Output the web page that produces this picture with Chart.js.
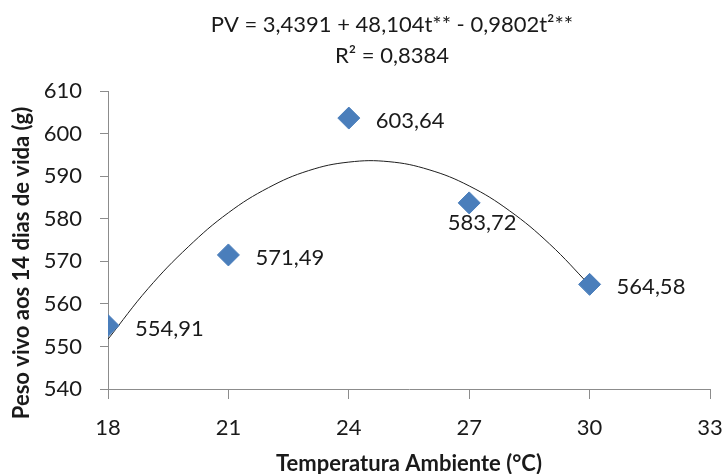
<!DOCTYPE html>
<html>
<head>
<meta charset="utf-8">
<script src="https://cdn.jsdelivr.net/npm/chart.js@4/dist/chart.umd.min.js"></script>
<style>
  body { margin: 0; background: #fff; }
  #grafico { display: block; }
</style>
</head>
<body>
<canvas id="grafico" width="726" height="474"></canvas>
<script>
// datos observados
const temperaturas = [18, 21, 24, 27, 30];
const pesosVivos = [554.91, 571.49, 603.64, 583.72, 564.58];
const etiquetasPeso = ["554,91", "571,49", "603,64", "583,72", "564,58"];

// curva ajustada
const tempCurva = [18, 19, 20, 21, 22, 23, 24, 25, 26, 27, 28, 29, 30];
const pesoCurva = [551.7, 563.6, 573.4, 581.4, 587.3, 591.3, 593.3, 593.4, 591.5, 587.7, 581.9, 574.1, 564.4];

const ticksX = [18, 21, 24, 27, 30, 33];
const ticksY = [540, 550, 560, 570, 580, 590, 600, 610];

const tituloLineas = ["PV = 3,4391 + 48,104t** - 0,9802t²**", "R² = 0,8384"];
const tituloX = "Temperatura Ambiente (°C)";
const tituloY = "Peso vivo aos 14 dias de vida (g)";

const fuente = "Lato, 'Open Sans', sans-serif";
const colorTexto = "#1a1a1a";
const colorEje = "#8c8c8c";

// posicion de cada etiqueta: derecha o abajo
const posEtiqueta = ["derecha", "derecha", "derecha", "abajo", "derecha"];

const pluginTextos = {
    id: "textos",
    afterDraw(chart) {
        const ctx = chart.ctx;
        const area = chart.chartArea;
        ctx.save();
        ctx.fillStyle = colorTexto;
        ctx.font = "22px " + fuente;
        ctx.textAlign = "center";
        ctx.textBaseline = "middle";
        let cx = (area.left + area.right) / 2 - 17;
        ctx.fillText(tituloLineas[0], cx, 25);
        ctx.fillText(tituloLineas[1], cx, 56);

        // titulo eje Y (algo desplazado hacia abajo como el original)
        ctx.save();
        ctx.font = "bold 22px " + fuente;
        ctx.translate(22, (area.top + area.bottom) / 2 + 23);
        ctx.rotate(-Math.PI / 2);
        ctx.fillText(tituloY, 0, 0);
        ctx.restore();

        // etiquetas de valores
        const meta = chart.getDatasetMeta(0);
        ctx.font = "22px " + fuente;
        meta.data.forEach((punto, i) => {
            if (posEtiqueta[i] === "abajo") {
                ctx.textAlign = "center";
                ctx.fillText(etiquetasPeso[i], punto.x + 13, punto.y + 20);
            } else {
                ctx.textAlign = "left";
                ctx.fillText(etiquetasPeso[i], punto.x + 27, punto.y + 3);
            }
        });
        ctx.restore();
    }
};

const datosDispersion = temperaturas.map((t, i) => ({ x: t, y: pesosVivos[i] }));
const datosCurva = tempCurva.map((t, i) => ({ x: t, y: pesoCurva[i] }));

const config = {
    type: "scatter",
    data: {
        datasets: [{
            label: "Peso vivo",
            data: datosDispersion,
            pointStyle: "rectRot",
            pointRadius: 11,
            backgroundColor: "#4a7ebb",
            borderColor: "#4a7ebb",
            borderWidth: 1,
            order: 0
        }, {
            label: "Ajuste",
            data: datosCurva,
            showLine: true,
            tension: 0.4,
            pointRadius: 0,
            borderColor: "#1e1e1e",
            borderWidth: 1,
            fill: false,
            order: 1
        }]
    },
    options: {
        responsive: false,
        animation: false,
        events: [],
        layout: { padding: { top: 91, right: 16, left: 0, bottom: 0 } },
        plugins: {
            legend: { display: false },
            tooltip: { enabled: false },
            title: { display: false }
        },
        scales: {
            x: {
                type: "linear",
                min: 18,
                max: 33,
                afterBuildTicks: (eje) => { eje.ticks = ticksX.map(v => ({ value: v })); },
                afterFit: (eje) => {
                    eje.height = 85;
                    eje.paddingLeft = 0;
                    eje.paddingRight = 0;
                },
                ticks: {
                    color: colorTexto,
                    font: { family: fuente, size: 22 },
                    padding: 16
                },
                grid: { drawOnChartArea: false, drawTicks: true, tickLength: 10, color: colorEje },
                border: { color: colorEje, width: 1 },
                title: {
                    display: true,
                    text: tituloX,
                    color: colorTexto,
                    font: { family: fuente, size: 22, weight: "bold" },
                    padding: { top: 0, bottom: -3 }
                }
            },
            y: {
                type: "linear",
                min: 540,
                max: 610,
                afterBuildTicks: (eje) => { eje.ticks = ticksY.map(v => ({ value: v })); },
                afterFit: (eje) => { eje.width = 108; },
                ticks: {
                    color: colorTexto,
                    font: { family: fuente, size: 22 },
                    padding: 18
                },
                grid: { drawOnChartArea: false, drawTicks: true, tickLength: 8, color: colorEje },
                border: { color: colorEje, width: 1 },
                title: { display: false }
            }
        }
    },
    plugins: [pluginTextos]
};

const grafico = new Chart(document.getElementById("grafico"), config);
</script>
</body>
</html>
